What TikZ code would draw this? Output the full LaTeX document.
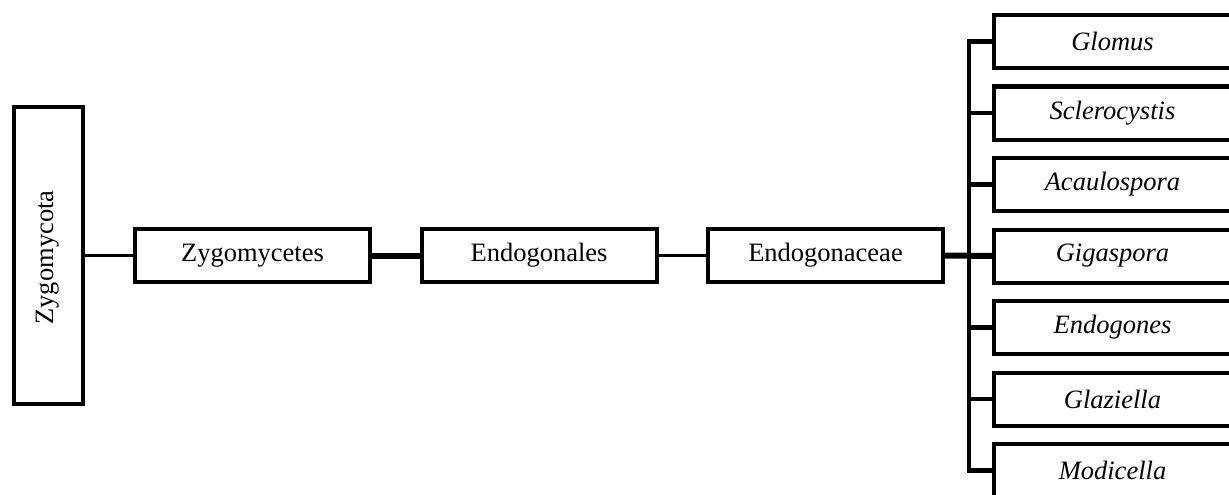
\documentclass[tikz,border=0pt]{standalone}
\usepackage{fontspec}
\setmainfont{Liberation Serif}
\begin{document}
\begin{tikzpicture}[x=1pt,y=-1pt,
  taxon/.style={draw=black,line width=4pt,fill=white,inner sep=0pt,
    font=\fontsize{26.5}{30}\selectfont,minimum height=53pt},
  rank/.style={taxon,minimum width=235pt},
  genus/.style={taxon,minimum width=237pt,font=\fontsize{26.5}{30}\selectfont\itshape},
  thinlink/.style={line width=3.5pt},
  thicklink/.style={line width=6pt},
  branch/.style={line width=4.5pt}]
  \useasboundingbox (0,0) rectangle (1229,495);

  % phylum box, its name set vertically
  \node[taxon,minimum width=69pt,minimum height=297pt] (phylum) at (48.5,255.5) {};
  \node[rotate=90,anchor=base,inner sep=0pt,font=\fontsize{26.5}{30}\selectfont]
    (phylumname) at (53,257.5) {Zygomycota};

  % class, order, family
  \node[rank] (class)  at (252.5,255.5) {Zygomycetes};
  \node[rank] (order)  at (539,255.5)   {Endogonales};
  \node[rank] (family) at (825.5,255.5) {Endogonaceae};

  % genera, stacked on the right
  \foreach \name [count=\i] in {Glomus,Sclerocystis,Acaulospora,Gigaspora,Endogones,Glaziella,Modicella}
    \node[genus] (g\i) at (1112.5,{41.5+71.5*(\i-1)}) {\name};

  % chain of ranks
  \draw[thinlink]  (phylum.east) -- (class.west);
  \draw[thicklink] (class.east)  -- (order.west);
  \draw[thinlink]  (order.east)  -- (family.west);

  % bracket joining the genera
  \coordinate (br) at (969,0);
  \draw[branch] (g1.west) -| (br |- g7.west) -- (g7.west);
  \foreach \i in {2,3,5,6}
    \draw[branch] (br |- g\i.west) -- (g\i.west);
  \draw[thicklink] (family.east) -- (g4.west);
\end{tikzpicture}
\end{document}
